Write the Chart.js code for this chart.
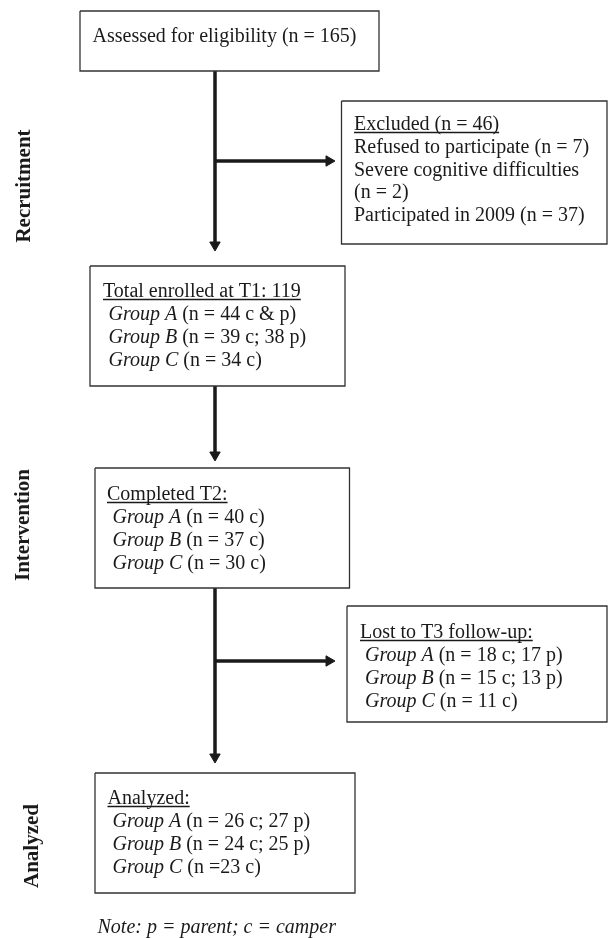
<!DOCTYPE html>
<html>
<head>
<meta charset="utf-8">
<script src="https://cdn.jsdelivr.net/npm/chart.js@4"></script>
<style>
  body { margin: 0; background: #fff; }
  #wrap { width: 609px; height: 938px; position: relative; }
</style>
</head>
<body>
<div id="wrap"><canvas id="flow"></canvas></div>
<script>
// flow chart values
const stages = ['Recruitment', 'Intervention', 'Analyzed'];
const assessedN = 165;
const excludedN = 46;
const excludedReasons = ['Refused to participate (n = 7)', 'Severe cognitive difficulties', '(n = 2)', 'Participated in 2009 (n = 37)'];
const groups = ['Group A', 'Group B', 'Group C'];
const enrolledT1 = 119;
const enrolledCounts = ['(n = 44 c & p)', '(n = 39 c; 38 p)', '(n = 34 c)'];
const completedCounts = ['(n = 40 c)', '(n = 37 c)', '(n = 30 c)'];
const lostCounts = ['(n = 18 c; 17 p)', '(n = 15 c; 13 p)', '(n = 11 c)'];
const analyzedCounts = ['(n = 26 c; 27 p)', '(n = 24 c; 25 p)', '(n =23 c)'];
const note = 'Note: p = parent; c = camper';

// layout (page units = pixels on a 609 x 938 sheet)
const W = 609, H = 938;
const boxes = {
    assessed:  [80, 11, 379, 71],
    excluded:  [341.5, 101, 607, 244],
    enrolled:  [90, 266, 345, 386],
    completed: [95, 468, 349.5, 588],
    lost:      [347, 606, 607, 722],
    analyzed:  [95, 773, 355, 893]
};
const spineX = 215;
const headR = 6;

const rectPath = b => [
    {x: b[0], y: b[1]}, {x: b[2], y: b[1]}, {x: b[2], y: b[3]}, {x: b[0], y: b[3]}, {x: b[0], y: b[1]}
];

const datasets = [];
Object.values(boxes).forEach(b => {
    datasets.push({
        type: 'line', data: rectPath(b), borderColor: '#333', borderWidth: 1.3,
        pointRadius: 0, fill: false, tension: 0
    });
});

// shafts: vertical and branches
const shafts = [
    [[spineX, 71], [spineX, 251 - headR]],
    [[spineX, 386], [spineX, 461 - headR]],
    [[spineX, 588], [spineX, 763 - headR]],
    [[spineX, 161], [335 - headR, 161]],
    [[spineX, 661], [335 - headR, 661]]
];
shafts.forEach(s => {
    datasets.push({
        type: 'line', data: s.map(p => ({x: p[0], y: p[1]})), borderColor: '#1a1a1a',
        borderWidth: 3.5, pointRadius: 0, fill: false, borderCapStyle: 'butt'
    });
});

// arrow heads
datasets.push({
    type: 'scatter',
    data: [
        {x: spineX, y: 251 - headR}, {x: spineX, y: 461 - headR}, {x: spineX, y: 763 - headR},
        {x: 335 - headR, y: 161}, {x: 335 - headR, y: 661}
    ],
    pointStyle: 'triangle',
    pointRotation: [180, 180, 180, 90, 90],
    pointRadius: headR,
    pointBackgroundColor: '#1a1a1a',
    pointBorderColor: '#1a1a1a',
    pointBorderWidth: 1
});

// text blocks: x, baseline, parts [text, italic], underline
const FS = 20;
const groupLines = (counts, x, y0) => counts.map((c, i) => ({
    x: x, y: y0 + i * 23, parts: [[groups[i], true], [' ' + c, false]]
}));
const texts = [
    {x: 92.5, y: 42, parts: [['Assessed for eligibility (n = ' + assessedN + ')', false]]},
    {x: 354, y: 130, parts: [['Excluded (n = ' + excludedN + ')', false]], underline: true},
    ...excludedReasons.map((r, i) => ({x: 354, y: 153 + i * 22.6, parts: [[r, false]]})),
    {x: 103, y: 297, parts: [['Total enrolled at T1: ' + enrolledT1, false]], underline: true},
    ...groupLines(enrolledCounts, 108.5, 320),
    {x: 107, y: 500, parts: [['Completed T2:', false]], underline: true},
    ...groupLines(completedCounts, 112.5, 523),
    {x: 360, y: 638, parts: [['Lost to T3 follow-up:', false]], underline: true},
    ...groupLines(lostCounts, 365, 661),
    {x: 107.5, y: 804, parts: [['Analyzed:', false]], underline: true},
    ...groupLines(analyzedCounts, 112.5, 827),
    {x: 97.5, y: 933, parts: [[note, true]]}
];
const stageCentres = [[25, 186], [24, 525], [33, 846]];

const textPlugin = {
    id: 'flowText',
    afterDatasetsDraw(chart) {
        const ctx = chart.ctx;
        const sx = chart.scales.x, sy = chart.scales.y;
        ctx.save();
        ctx.fillStyle = '#1a1a1a';
        ctx.strokeStyle = '#1a1a1a';
        ctx.textBaseline = 'alphabetic';
        ctx.textAlign = 'left';
        texts.forEach(t => {
            let px = sx.getPixelForValue(t.x);
            const py = sy.getPixelForValue(t.y);
            const start = px;
            t.parts.forEach(p => {
                ctx.font = (p[1] ? 'italic ' : '') + FS + 'px "Liberation Serif", "Times New Roman", serif';
                ctx.fillText(p[0], px, py);
                px += ctx.measureText(p[0]).width;
            });
            if (t.underline) {
                ctx.lineWidth = 1.3;
                ctx.beginPath();
                ctx.moveTo(start, py + 2.5);
                ctx.lineTo(px, py + 2.5);
                ctx.stroke();
            }
        });
        ctx.font = 'bold 21px "Liberation Serif", "Times New Roman", serif';
        ctx.textAlign = 'center';
        ctx.textBaseline = 'middle';
        stages.forEach((s, i) => {
            const c = stageCentres[i];
            ctx.save();
            ctx.translate(sx.getPixelForValue(c[0]), sy.getPixelForValue(c[1]));
            ctx.rotate(-Math.PI / 2);
            ctx.fillText(s, 0, 0);
            ctx.restore();
        });
        ctx.restore();
    }
};

new Chart(document.getElementById('flow').getContext('2d'), {
    type: 'scatter',
    data: { datasets: datasets },
    options: {
        responsive: true,
        maintainAspectRatio: false,
        animation: false,
        layout: { padding: 0, autoPadding: false },
        plugins: { legend: { display: false }, tooltip: { enabled: false } },
        scales: {
            x: { type: 'linear', min: 0, max: W, display: false },
            y: { type: 'linear', min: 0, max: H, reverse: true, display: false }
        }
    },
    plugins: [textPlugin]
});
</script>
</body>
</html>
